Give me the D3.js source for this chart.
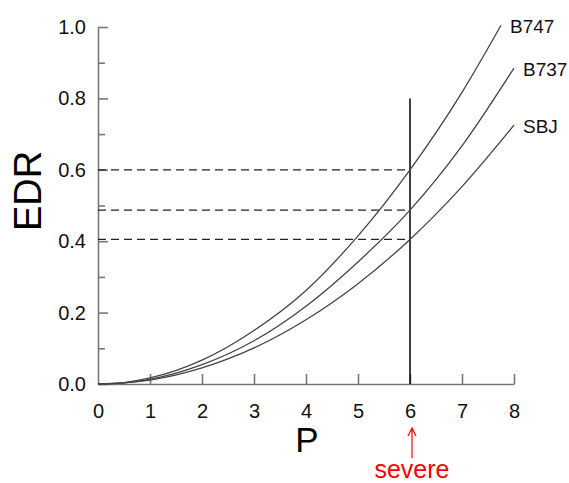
<!DOCTYPE html>
<html>
<head>
<meta charset="utf-8">
<script src="https://cdn.jsdelivr.net/npm/d3@7"></script>
<style>
  body { margin: 0; background: #fff; }
  svg text { font-family: "Liberation Sans", Arial, sans-serif; }
</style>
</head>
<body>
<div id="chart"></div>
<script>
// values
const pValues = [0, 0.5, 1, 2, 3, 4, 5, 6, 7, 7.75];
const b747 = [0, 0.004, 0.017, 0.067, 0.15, 0.262, 0.415, 0.60, 0.817, 1.005];
const pValues2 = [0, 0.5, 1, 2, 3, 4, 5, 6, 7, 8];
const b737 = [0, 0.003, 0.013, 0.054, 0.121, 0.218, 0.342, 0.487, 0.667, 0.885];
const sbj = [0, 0.003, 0.011, 0.045, 0.101, 0.18, 0.281, 0.405, 0.553, 0.725];

const seriesNames = ["B747", "B737", "SBJ"];
const severeP = 6;
const severeTop = 0.8;
const levels = [0.60, 0.487, 0.405];

const xTicks = [0, 1, 2, 3, 4, 5, 6, 7, 8];
const yMajor = [0, 0.2, 0.4, 0.6, 0.8, 1.0];
const yMinor = [0.1, 0.3, 0.5, 0.7, 0.9];

const width = 569, height = 483;

const x = d3.scaleLinear().domain([0, 8]).range([98, 514]);
const y = d3.scaleLinear().domain([0, 1]).range([384, 27]);

const svg = d3.select("#chart").append("svg")
  .attr("width", width)
  .attr("height", height);

const axisColor = "#777";

// x axis
const xAxis = svg.append("g")
  .attr("transform", "translate(0," + y(0) + ")")
  .call(d3.axisBottom(x).tickValues(xTicks).tickSizeInner(-10).tickSizeOuter(0).tickPadding(20).tickFormat(d3.format("d")));
xAxis.selectAll("text").style("font-size", "20px").attr("fill", "#111");

// y axis
const yAxis = svg.append("g")
  .attr("transform", "translate(" + x(0) + ",0)")
  .call(d3.axisLeft(y).tickValues(yMajor).tickSizeInner(-10).tickSizeOuter(0).tickPadding(12).tickFormat(d3.format(".1f")));
yAxis.selectAll("text").style("font-size", "20px").attr("fill", "#111");

const yMinorAxis = svg.append("g")
  .attr("transform", "translate(" + x(0) + ",0)")
  .call(d3.axisLeft(y).tickValues(yMinor).tickSizeInner(-7).tickSizeOuter(0).tickFormat(""));
yMinorAxis.select("path.domain").remove();

svg.selectAll(".domain, .tick line")
  .attr("stroke", axisColor)
  .attr("stroke-width", 1.6);
xAxis.selectAll(".tick").filter(d => d === 0).select("line").remove();

// dashed levels
svg.append("g").selectAll("line")
  .data(levels)
  .enter()
  .append("line")
  .attr("x1", x(0))
  .attr("x2", x(severeP))
  .attr("y1", d => y(d))
  .attr("y2", d => y(d))
  .attr("stroke", "#222")
  .attr("stroke-width", 1.3)
  .attr("stroke-dasharray", "8,5");

// severe line
svg.append("line")
  .attr("x1", x(severeP)).attr("x2", x(severeP))
  .attr("y1", y(0)).attr("y2", y(severeTop))
  .attr("stroke", "#000")
  .attr("stroke-width", 1.5);

// curves
const curves = [
  { name: seriesNames[0], p: pValues, v: b747 },
  { name: seriesNames[1], p: pValues2, v: b737 },
  { name: seriesNames[2], p: pValues2, v: sbj }
];

const line = d3.line()
  .x(d => x(d[0]))
  .y(d => y(d[1]))
  .curve(d3.curveMonotoneX);

svg.append("g").selectAll("path")
  .data(curves)
  .enter()
  .append("path")
  .attr("d", d => line(d.p.map((p, i) => [p, d.v[i]])))
  .attr("fill", "none")
  .attr("stroke", "#444")
  .attr("stroke-width", 1.3);

svg.append("g").selectAll("text")
  .data(curves)
  .enter()
  .append("text")
  .attr("x", d => x(d.p[d.p.length - 1]) + 9)
  .attr("y", d => y(d.v[d.v.length - 1]) + 8)
  .style("font-size", "19px")
  .attr("fill", "#111")
  .text(d => d.name);

// axis titles
svg.append("text")
  .attr("transform", "translate(41,191) rotate(-90)")
  .attr("text-anchor", "middle")
  .style("font-size", "38px")
  .attr("fill", "#000")
  .text("EDR");

svg.append("text")
  .attr("x", 307)
  .attr("y", 452)
  .attr("text-anchor", "middle")
  .style("font-size", "35px")
  .attr("fill", "#000")
  .text("P");

// severe annotation
const arrowX = x(severeP) + 2;
svg.append("path")
  .attr("d", "M" + arrowX + ",458 L" + arrowX + ",428 M" + (arrowX - 4) + ",436 L" + arrowX + ",428 L" + (arrowX + 4) + ",436")
  .attr("fill", "none")
  .attr("stroke", "#f00")
  .attr("stroke-width", 1.2);

svg.append("text")
  .attr("x", arrowX)
  .attr("y", 478)
  .attr("text-anchor", "middle")
  .style("font-size", "25px")
  .attr("fill", "#f00")
  .text("severe");
</script>
</body>
</html>
